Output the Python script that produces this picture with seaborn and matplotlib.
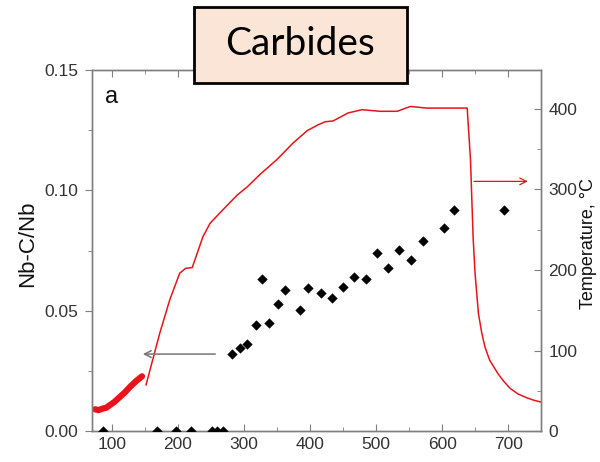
import matplotlib
matplotlib.use("Agg")
import matplotlib.pyplot as plt
from matplotlib.patches import FancyArrowPatch, Rectangle
from matplotlib.ticker import MultipleLocator, FormatStrFormatter
import seaborn as sns
import pandas as pd

# Nb-C/Nb fraction measured at each time step
time_pts = [87, 168, 197, 220, 252, 259, 269,
            282, 294, 305, 318, 328, 338, 352, 362, 385, 397,
            417, 433, 450, 467, 485, 502, 518, 535, 553, 571,
            603, 618, 693]
nbc_ratio = [0.0, 0.0, 0.0, 0.0, 0.0, 0.0, 0.0,
             0.0321, 0.0346, 0.0363, 0.0442, 0.0633, 0.0450, 0.0529, 0.0588, 0.0504, 0.0596,
             0.0575, 0.0554, 0.0600, 0.0642, 0.0633, 0.0742, 0.0679, 0.0754, 0.0713, 0.0788,
             0.0846, 0.0917, 0.0917]

# Temperature log, early heating stage (dense record)
time_early = [75, 80, 87, 92, 97, 104, 112, 120, 128, 137, 146]
temp_early = [27, 26, 28, 29, 32, 36, 42, 48, 55, 62, 68]

# Temperature log, main ramp, hold and cool-down
time_main = [152, 162, 173, 188, 203, 212, 222, 230, 238, 249, 264, 290, 305,
             325, 350, 375, 396, 412, 423, 435, 458, 479, 506, 532, 552, 577,
             638, 643, 647, 650, 655, 660, 665, 672, 684, 693, 703, 715, 729, 740, 750]
temp_main = [57, 88, 122, 163, 196, 202, 203, 222, 241, 258, 271, 293, 303,
             319, 337, 358, 373, 380, 384, 385, 395, 399, 397, 397, 403, 401,
             401, 337, 240, 195, 146, 122, 104, 88, 72, 62, 53, 46, 41, 38, 36]

fig = plt.figure(figsize=(6.0, 4.62), dpi=100)
sns.set_style("ticks")
plt.rcParams["font.family"] = ["Liberation Sans", "DejaVu Sans"]

ax = fig.add_axes([0.153, 0.067, 0.749, 0.781])
ax2 = ax.twinx()

gray = "#7f7f7f"
txt = "#333333"
red = "#e8141a"

# temperature on the right axis
df_early = pd.DataFrame({"t": time_early, "T": temp_early})
df_main = pd.DataFrame({"t": time_main, "T": temp_main})
sns.lineplot(data=df_early, x="t", y="T", ax=ax2, color=red, lw=4.5,
             solid_capstyle="round")
sns.lineplot(data=df_main, x="t", y="T", ax=ax2, color=red, lw=1.1)

# carbide fraction on the left axis
df_pts = pd.DataFrame({"t": time_pts, "r": nbc_ratio})
sns.scatterplot(data=df_pts, x="t", y="r", ax=ax, marker="D", s=24,
                color="black", edgecolor="black", linewidth=0.3, zorder=5)
ax.set_zorder(ax2.get_zorder() + 1)
ax.patch.set_visible(False)

ax.set_xlim(70, 750)
ax.set_ylim(0, 0.15)
ax2.set_ylim(0, 448)

ax.xaxis.set_major_locator(MultipleLocator(100))
ax.xaxis.set_minor_locator(MultipleLocator(50))
ax.yaxis.set_major_locator(MultipleLocator(0.05))
ax.yaxis.set_minor_locator(MultipleLocator(0.025))
ax2.yaxis.set_major_locator(MultipleLocator(100))
ax2.yaxis.set_minor_locator(MultipleLocator(50))
ax.yaxis.set_major_formatter(FormatStrFormatter("%.2f"))

for a in (ax, ax2):
    for s in a.spines.values():
        s.set_visible(True)
        s.set_color(gray)
        s.set_linewidth(1.0)

ax.tick_params(axis="x", which="both", direction="in", top=True, bottom=True,
               color=gray, labelsize=12.5, labelcolor=txt, pad=4)
ax.tick_params(axis="x", which="major", length=5)
ax.tick_params(axis="x", which="minor", length=3)
ax.tick_params(axis="y", which="both", direction="out", color=gray,
               labelsize=12.5, labelcolor=txt, pad=5)
ax.tick_params(axis="y", which="major", length=5)
ax.tick_params(axis="y", which="minor", length=3)
ax2.tick_params(axis="y", which="both", direction="in", color=gray,
                labelsize=12.5, labelcolor=txt, pad=5)
ax2.tick_params(axis="y", which="major", length=5)
ax2.tick_params(axis="y", which="minor", length=3)

ax.set_xlabel("")
ax.set_ylabel("Nb-C/Nb", fontsize=16, color="#111111")
ax2.set_ylabel("Temperature, °C", fontsize=13, color="#111111")
ax.yaxis.set_label_coords(-0.12, 0.52)
ax2.yaxis.set_label_coords(1.087, 0.52)

ax.text(100, 0.139, "a", fontsize=17, color="#111111", ha="center", va="center")

# arrows pointing each series to its axis
ax.add_patch(FancyArrowPatch((261, 0.032), (143, 0.032), arrowstyle="->",
                             mutation_scale=12, color="#777777", lw=1.1))
ax2.add_patch(FancyArrowPatch((644, 310), (734, 310), arrowstyle="->",
                              mutation_scale=12, color=red, lw=0.9))

# title box over the top spine
fig.patches.append(Rectangle((0.3233, 0.8203), 0.355, 0.1645,
                             transform=fig.transFigure, fc="#fbe5d6",
                             ec="black", lw=2, zorder=9))
fig.text(0.5008, 0.905, "Carbides", fontsize=28, family=["Lato", "DejaVu Sans"],
         ha="center", va="center", color="black", zorder=10)

fig.savefig("out.png", dpi=100)
